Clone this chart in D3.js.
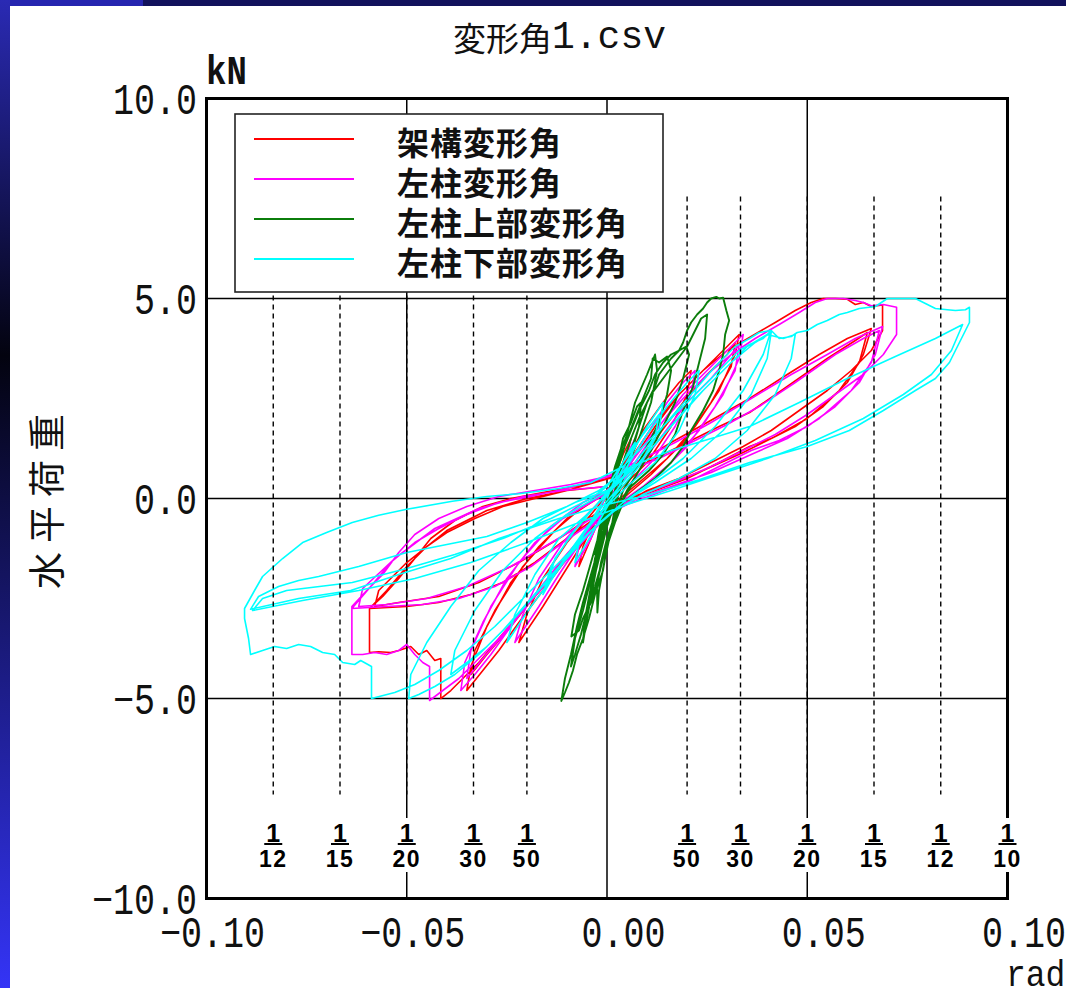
<!DOCTYPE html>
<html><head><meta charset="utf-8">
<script src="https://cdn.jsdelivr.net/npm/d3@7"></script>
<style>html,body{margin:0;padding:0;background:#fff;overflow:hidden}</style>
</head><body>
<svg id="chart" width="1066" height="988"></svg>
<script>
// ---------------- data ----------------
const chartTitle = "変形角1.csv";
const seriesNames = ["架構変形角","左柱変形角","左柱上部変形角","左柱下部変形角"];
const xTicks = [-0.1,-0.05,0,0.05,0.1];
const xTickLabels = ["−0.10","−0.05","0.00","0.05","0.10"];
const yTicks = [-10,-5,0,5,10];
const yTickLabels = ["−10.0","−5.0","0.0","5.0","10.0"];
const gridX = [-0.05,0,0.05];
const gridY = [-5,0,5];
const driftLeft = [12,15,20,30,50];      // −1/n
const driftRight = [50,30,20,15,12,10];  // +1/n

const frameDrift = [
[0,0],[0.002,0.6],[0.004,1.1],[0.006,1.5],[0.005,1.1],[0.002,0.4],[-0.001,-0.3],[-0.004,-1.0],[-0.007,-1.7],[-0.006,-1.2],[-0.003,-0.5],[0.000,0.1],
[0.004,0.8],[0.009,1.7],[0.014,2.4],[0.018,2.9],[0.021,3.2],[0.020,2.6],[0.016,1.8],[0.010,0.9],[0.004,0.3],[-0.001,-0.3],[-0.006,-1.1],[-0.011,-1.9],[-0.016,-2.7],[-0.020,-3.3],[-0.022,-3.6],[-0.020,-2.9],[-0.016,-2.0],[-0.010,-1.1],[-0.004,-0.4],[0.001,0.2],
[0.006,0.9],[0.012,1.8],[0.018,2.6],[0.024,3.2],[0.029,3.7],[0.033,4.1],[0.032,3.6],[0.028,2.7],[0.022,1.8],[0.015,1.0],[0.008,0.4],[0.002,-0.1],[-0.004,-0.7],[-0.010,-1.5],[-0.016,-2.3],[-0.022,-3.1],[-0.027,-3.8],[-0.031,-4.3],[-0.035,-4.8],[-0.034,-4.2],[-0.030,-3.2],[-0.024,-2.1],[-0.017,-1.2],[-0.010,-0.5],[-0.004,-0.1],[0.001,0.2],
[0.007,0.8],[0.013,1.6],[0.019,2.4],[0.025,3.1],[0.030,3.6],[0.032,3.9],[0.031,3.3],[0.026,2.4],[0.019,1.4],[0.011,0.6],[0.004,0.0],[-0.003,-0.6],[-0.010,-1.4],[-0.017,-2.3],[-0.024,-3.2],[-0.030,-3.9],[-0.034,-4.4],[-0.033,-3.8],[-0.028,-2.8],[-0.021,-1.7],[-0.013,-0.8],[-0.006,-0.2],[0.000,0.2],
[0.006,1.0],[0.012,1.9],[0.018,2.6],[0.024,3.2],[0.030,3.7],[0.036,4.05],[0.042,4.4],[0.047,4.7],[0.051,4.9],[0.054,5.0],[0.057,5.0],[0.060,4.98],[0.062,4.85],[0.064,4.9],[0.066,4.8],[0.0688,4.84],[0.0688,4.2],[0.066,3.7],[0.061,3.2],[0.055,2.7],[0.048,2.2],[0.041,1.7],[0.034,1.3],[0.026,0.9],[0.018,0.5],[0.010,0.2],[0.003,-0.2],[-0.003,-0.7],[-0.009,-1.4],[-0.015,-2.1],[-0.021,-2.8],[-0.027,-3.5],[-0.032,-4.1],[-0.036,-4.5],[-0.039,-4.8],[-0.0415,-5.0],[-0.0415,-4.0],[-0.043,-4.05],[-0.045,-3.8],[-0.047,-3.9],[-0.049,-3.7],[-0.052,-3.8],[-0.054,-3.85],[-0.057,-3.83],[-0.0593,-3.85],[-0.0593,-2.75],
[-0.056,-2.45],[-0.052,-2.0],[-0.048,-1.5],[-0.044,-1.0],[-0.038,-0.55],[-0.031,-0.2],[-0.024,0.0],[-0.016,0.15],[-0.008,0.3],[0.0,0.5],
[0.008,0.9],[0.016,1.4],[0.025,1.9],[0.0356,2.5],[0.045,3.1],[0.053,3.6],[0.060,4.0],[0.066,4.25],[0.064,3.6],[0.060,2.9],[0.054,2.3],[0.047,1.8],[0.041,1.5],[0.0356,1.3],[0.028,0.9],[0.020,0.5],[0.012,0.2],[0.004,-0.1],[-0.003,-0.5],[-0.010,-1.0],[-0.018,-1.6],[-0.026,-2.1],[-0.034,-2.4],[-0.042,-2.6],[-0.050,-2.7],[-0.0593,-2.75],
[-0.055,-2.3],[-0.050,-1.7],[-0.045,-1.2],[-0.040,-0.85],[-0.033,-0.5],[-0.026,-0.2],[-0.018,0.0],[-0.010,0.2],[-0.003,0.4],[0.004,0.6],
[0.012,1.0],[0.020,1.4],[0.028,1.8],[0.0356,2.15],[0.045,2.8],[0.055,3.5],[0.062,3.95],[0.065,4.15],[0.063,3.4],[0.058,2.7],[0.050,2.0],[0.042,1.55],[0.034,1.15],[0.024,0.7],[0.014,0.3],[0.005,0.0],[-0.003,-0.4],[-0.012,-1.0],[-0.022,-1.6],[-0.032,-2.1],[-0.042,-2.45],[-0.052,-2.6],[-0.058,-2.7],[-0.057,-2.3],[-0.050,-1.6],[-0.040,-0.8],[-0.030,-0.3],[-0.020,0.0],[-0.010,0.2],[0.0,0.3]
];

const leftColumn = [
[0,0],[0.002,0.5],[0.005,1.1],[0.007,1.5],[0.006,1.1],[0.003,0.4],[-0.001,-0.3],[-0.004,-1.0],[-0.008,-1.7],[-0.007,-1.2],[-0.003,-0.5],[0.0,0.1],
[0.005,0.8],[0.010,1.6],[0.015,2.4],[0.019,2.9],[0.022,3.2],[0.021,2.6],[0.017,1.8],[0.011,0.9],[0.005,0.3],[-0.001,-0.3],[-0.006,-1.0],[-0.012,-1.9],[-0.017,-2.7],[-0.021,-3.3],[-0.023,-3.6],[-0.021,-2.9],[-0.017,-2.0],[-0.011,-1.1],[-0.005,-0.4],[0.001,0.2],
[0.007,0.9],[0.013,1.8],[0.019,2.6],[0.025,3.2],[0.030,3.7],[0.034,4.1],[0.033,3.5],[0.029,2.6],[0.023,1.7],[0.016,0.9],[0.009,0.3],[0.002,-0.2],[-0.005,-0.8],[-0.011,-1.6],[-0.018,-2.4],[-0.024,-3.2],[-0.029,-3.9],[-0.033,-4.4],[-0.0365,-4.8],[-0.0355,-4.1],[-0.031,-3.1],[-0.025,-2.0],[-0.018,-1.1],[-0.011,-0.5],[-0.004,-0.1],[0.001,0.2],
[0.008,0.8],[0.014,1.6],[0.020,2.4],[0.026,3.0],[0.031,3.6],[0.033,3.85],[0.032,3.2],[0.027,2.3],[0.020,1.3],[0.012,0.5],[0.004,-0.1],[-0.004,-0.7],[-0.011,-1.5],[-0.018,-2.4],[-0.025,-3.3],[-0.031,-4.0],[-0.035,-4.5],[-0.034,-3.8],[-0.029,-2.7],[-0.022,-1.6],[-0.014,-0.7],[-0.006,-0.1],[0.0,0.2],
[0.006,0.9],[0.012,1.7],[0.019,2.5],[0.025,3.1],[0.031,3.6],[0.037,4.0],[0.043,4.35],[0.048,4.65],[0.052,4.9],[0.055,5.0],[0.059,5.0],[0.062,4.95],[0.064,4.9],[0.066,4.82],[0.069,4.85],[0.0723,4.78],[0.0723,4.1],[0.069,3.6],[0.064,3.1],[0.057,2.6],[0.050,2.1],[0.042,1.6],[0.034,1.2],[0.026,0.8],[0.018,0.45],[0.010,0.15],[0.003,-0.25],[-0.003,-0.75],[-0.009,-1.4],[-0.015,-2.1],[-0.021,-2.8],[-0.027,-3.5],[-0.033,-4.1],[-0.037,-4.5],[-0.041,-4.8],[-0.0443,-5.05],[-0.0443,-4.2],[-0.046,-4.1],[-0.048,-3.9],[-0.050,-3.65],[-0.052,-3.8],[-0.055,-3.9],[-0.058,-3.85],[-0.061,-3.9],[-0.0637,-3.9],[-0.0637,-2.7],
[-0.060,-2.3],[-0.056,-1.9],[-0.052,-1.35],[-0.048,-0.9],[-0.042,-0.5],[-0.035,-0.2],[-0.027,0.05],[-0.018,0.2],[-0.009,0.35],[0.0,0.55],
[0.008,0.95],[0.017,1.4],[0.026,1.9],[0.036,2.5],[0.046,3.1],[0.055,3.6],[0.062,4.0],[0.0688,4.3],[0.067,3.6],[0.063,2.9],[0.057,2.3],[0.050,1.8],[0.043,1.45],[0.036,1.2],[0.029,0.85],[0.021,0.45],[0.013,0.15],[0.005,-0.15],[-0.003,-0.55],[-0.011,-1.1],[-0.019,-1.7],[-0.028,-2.2],[-0.037,-2.5],[-0.046,-2.65],[-0.055,-2.7],[-0.0637,-2.75],
[-0.059,-2.2],[-0.054,-1.6],[-0.048,-1.1],[-0.042,-0.75],[-0.035,-0.4],[-0.027,-0.1],[-0.019,0.05],[-0.010,0.25],[-0.003,0.45],[0.004,0.65],
[0.013,1.0],[0.022,1.45],[0.030,1.85],[0.038,2.3],[0.047,2.9],[0.057,3.6],[0.064,4.0],[0.068,4.2],[0.066,3.4],[0.061,2.7],[0.053,2.0],[0.045,1.5],[0.036,1.1],[0.026,0.65],[0.016,0.3],[0.006,-0.05],[-0.003,-0.45],[-0.013,-1.05],[-0.024,-1.7],[-0.035,-2.2],[-0.045,-2.5],[-0.055,-2.65],[-0.062,-2.7],[-0.061,-2.25],[-0.053,-1.5],[-0.043,-0.75],[-0.032,-0.25],[-0.021,0.05],[-0.011,0.2],[0.0,0.3]
];

const leftColumnUpper = [
[0,0],[0.001,0.4],[0.002,0.8],[0.003,1.1],[0.004,1.4],[0.003,0.9],[0.0015,0.3],[0.0,-0.3],[-0.0015,-0.8],[-0.003,-1.4],[-0.002,-0.8],[-0.0005,-0.2],
[0.001,0.4],[0.003,1.0],[0.004,1.5],[0.006,1.9],[0.0075,2.3],[0.0085,2.4],[0.008,1.8],[0.006,1.1],[0.004,0.5],[0.002,-0.1],[0.0,-0.7],[-0.0015,-1.3],[-0.003,-1.9],[-0.004,-2.4],[-0.005,-2.9],[-0.004,-2.2],[-0.003,-1.5],[-0.001,-0.8],[0.0005,-0.1],
[0.002,0.5],[0.0035,1.0],[0.005,1.5],[0.007,2.0],[0.009,2.5],[0.011,3.0],[0.0114,3.5],[0.013,3.4],[0.015,3.55],[0.016,3.2],[0.015,2.6],[0.013,1.9],[0.010,1.3],[0.007,0.7],[0.004,0.2],[0.002,-0.4],[0.0,-1.0],[-0.0015,-1.6],[-0.0025,-2.2],[-0.0024,-2.85],[-0.002,-2.3],[-0.0005,-1.5],[0.001,-0.8],[0.002,-0.2],
[0.004,0.5],[0.006,1.2],[0.008,1.8],[0.010,2.4],[0.012,2.8],[0.013,3.1],[0.0145,3.3],[0.016,3.5],[0.018,3.7],[0.0198,3.8],[0.0205,3.6],[0.019,3.0],[0.017,2.4],[0.014,1.8],[0.011,1.2],[0.008,0.7],[0.005,0.2],[0.002,-0.4],[0.0,-1.1],[-0.002,-1.9],[-0.004,-2.6],[-0.006,-3.0],[-0.007,-3.3],[-0.0089,-3.45],[-0.008,-2.9],[-0.006,-2.3],[-0.004,-1.6],[-0.002,-0.9],[0.0,-0.2],
[0.002,0.5],[0.004,1.2],[0.006,1.7],[0.008,2.2],[0.0105,2.7],[0.012,3.1],[0.014,3.4],[0.016,3.6],[0.018,3.7],[0.019,3.9],[0.020,4.2],[0.021,4.4],[0.0225,4.6],[0.024,4.75],[0.025,4.9],[0.026,5.0],[0.0273,5.04],[0.028,5.0],[0.029,5.02],[0.0298,4.7],[0.0305,4.45],[0.0295,4.1],[0.029,3.6],[0.028,3.2],[0.0265,2.7],[0.024,2.2],[0.021,1.7],[0.019,1.3],[0.016,0.9],[0.012,0.5],[0.008,0.2],[0.004,-0.1],[0.002,-0.6],[0.0,-1.2],[-0.001,-1.8],[-0.003,-2.4],[-0.0045,-3.0],[-0.006,-3.5],[-0.0075,-3.9],[-0.0085,-4.3],[-0.0095,-4.6],[-0.0105,-4.85],[-0.0114,-5.06],[-0.0105,-4.5],[-0.009,-3.9],[-0.0075,-3.2],[-0.006,-2.6],[-0.004,-1.9],[-0.002,-1.2],[0.0,-0.5],[0.002,0.2],
[0.004,0.9],[0.006,1.5],[0.008,2.0],[0.011,2.6],[0.014,3.0],[0.017,3.4],[0.020,3.8],[0.022,4.2],[0.0235,4.5],[0.025,4.6],[0.0245,4.0],[0.023,3.4],[0.0215,2.8],[0.019,2.2],[0.017,1.6],[0.014,1.1],[0.0105,0.7],[0.006,0.3],[0.003,-0.2],[0.001,-0.8],[-0.001,-1.5],[-0.003,-2.2],[-0.005,-2.8],[-0.0065,-3.4],[-0.008,-3.9],[-0.009,-4.2],[-0.008,-3.5],[-0.006,-2.8],[-0.004,-2.0],[-0.002,-1.2],[0.0,-0.4],[0.001,0.0],
[0.002,0.8],[0.005,1.6],[0.007,2.4],[0.010,3.1],[0.012,3.6],[0.0125,3.2],[0.011,2.4],[0.008,1.5],[0.005,0.8],[0.002,0.1],[0.0,-0.6],[-0.002,-1.4],[-0.0035,-2.2],[-0.005,-3.0],[-0.006,-3.6],[-0.0055,-3.0],[-0.004,-2.2],[-0.002,-1.3],[0.0,-0.5],[0.001,0.0]
];

const leftColumnLower = [
[0,0],[0.002,0.5],[0.005,1.1],[0.007,1.4],[0.006,1.0],[0.003,0.3],[-0.001,-0.4],[-0.005,-1.1],[-0.008,-1.6],[-0.007,-1.1],[-0.003,-0.4],[0.0,0.1],
[0.005,0.8],[0.010,1.6],[0.015,2.3],[0.020,2.9],[0.023,3.2],[0.022,2.6],[0.018,1.7],[0.012,0.9],[0.005,0.3],[-0.001,-0.3],[-0.007,-1.0],[-0.013,-1.9],[-0.019,-2.7],[-0.023,-3.3],[-0.025,-3.6],[-0.023,-2.9],[-0.018,-1.9],[-0.012,-1.0],[-0.005,-0.4],[0.001,0.2],
[0.007,0.9],[0.014,1.8],[0.021,2.6],[0.027,3.3],[0.032,3.8],[0.0356,4.0],[0.038,4.15],[0.041,4.2],[0.039,3.6],[0.034,2.7],[0.027,1.8],[0.019,1.0],[0.011,0.4],[0.004,-0.1],[-0.003,-0.7],[-0.010,-1.5],[-0.017,-2.3],[-0.024,-3.1],[-0.030,-3.7],[-0.035,-4.1],[-0.039,-4.4],[-0.038,-3.8],[-0.033,-2.8],[-0.026,-1.8],[-0.018,-1.0],[-0.010,-0.4],[-0.003,0.0],[0.002,0.3],
[0.008,0.9],[0.015,1.7],[0.022,2.5],[0.029,3.2],[0.035,3.8],[0.040,4.1],[0.044,4.0],[0.047,4.1],[0.046,3.5],[0.042,2.6],[0.035,1.7],[0.027,1.0],[0.018,0.5],[0.009,0.1],[0.002,-0.3],[-0.005,-0.9],[-0.012,-1.7],[-0.019,-2.5],[-0.026,-3.3],[-0.032,-3.9],[-0.038,-4.4],[-0.043,-4.7],[-0.047,-4.9],[-0.0495,-5.0],[-0.049,-4.4],[-0.045,-3.6],[-0.039,-2.7],[-0.032,-1.8],[-0.024,-1.1],[-0.016,-0.5],[-0.008,-0.1],[0.0,0.2],
[0.008,0.9],[0.016,1.8],[0.024,2.7],[0.031,3.4],[0.037,3.9],[0.041,4.15],[0.040,3.5],[0.036,2.6],[0.029,1.7],[0.021,1.0],[0.012,0.4],[0.004,-0.1],[-0.004,-0.8],[-0.012,-1.6],[-0.020,-2.4],[-0.028,-3.2],[-0.035,-3.8],[-0.042,-4.3],[-0.048,-4.65],[-0.053,-4.85],[-0.0588,-5.0],[-0.0588,-4.2],[-0.0615,-4.05],[-0.063,-4.15],[-0.066,-4.1],[-0.068,-3.9],[-0.071,-3.85],[-0.074,-3.7],[-0.077,-3.65],[-0.080,-3.75],[-0.083,-3.7],[-0.086,-3.8],[-0.089,-3.9],[-0.0895,-3.5],[-0.0905,-3.0],[-0.0905,-2.75],
[-0.088,-2.3],[-0.086,-1.95],[-0.081,-1.5],[-0.076,-1.1],[-0.070,-0.85],[-0.0636,-0.6],[-0.057,-0.42],[-0.050,-0.27],[-0.0386,-0.07],[-0.030,0.05],[-0.022,0.12],[-0.012,0.25],[-0.004,0.4],
[0.004,0.8],[0.010,1.4],[0.016,2.0],[0.022,2.6],[0.028,3.2],[0.033,3.7],[0.0356,3.85],[0.039,4.0],[0.041,4.2],[0.043,4.0],[0.046,4.05],[0.0475,4.15],[0.050,4.2],[0.0525,4.35],[0.055,4.45],[0.058,4.6],[0.060,4.65],[0.063,4.75],[0.067,4.8],[0.070,5.0],[0.074,5.0],[0.077,5.0],[0.079,4.9],[0.082,4.75],[0.085,4.72],[0.087,4.7],[0.0895,4.72],[0.0905,4.78],[0.0905,4.4],
[0.088,3.9],[0.0855,3.4],[0.082,3.0],[0.077,2.7],[0.069,2.2],[0.0605,1.7],[0.050,1.3],[0.0356,0.9],[0.023,0.47],[0.0106,0.1],[0.0,-0.15],[-0.012,-0.5],[-0.027,-1.0],[-0.039,-1.5],[-0.052,-1.9],[-0.064,-2.3],[-0.077,-2.5],[-0.089,-2.77],
[-0.087,-2.45],[-0.082,-2.2],[-0.077,-2.05],[-0.072,-1.95],[-0.062,-1.7],[-0.050,-1.35],[-0.040,-1.15],[-0.030,-0.95],[-0.020,-0.6],[-0.010,-0.2],[-0.002,0.2],
[0.006,0.8],[0.016,1.2],[0.026,1.5],[0.0356,1.8],[0.048,2.4],[0.060,3.0],[0.072,3.55],[0.082,4.0],[0.0888,4.35],[0.086,3.7],[0.081,3.1],[0.074,2.6],[0.064,2.0],[0.052,1.45],[0.040,1.0],[0.028,0.6],[0.016,0.2],[0.005,-0.15],[-0.007,-0.6],[-0.020,-1.1],[-0.034,-1.6],[-0.048,-2.0],[-0.062,-2.3],[-0.076,-2.55],[-0.0885,-2.8],
[-0.086,-2.5],[-0.080,-2.3],[-0.0636,-2.1],[-0.050,-1.75],[-0.038,-1.4],[-0.026,-1.0],[-0.014,-0.5],[-0.004,0.0],[0.0,0.3],
[0.004,0.9],[0.009,1.6],[0.013,2.1],[0.012,1.5],[0.008,0.8],[0.003,0.2],[-0.003,-0.5],[-0.008,-1.2],[-0.013,-1.9],[-0.015,-2.2],[-0.013,-1.5],[-0.008,-0.8],[-0.003,-0.2],[0.002,0.4],[0.006,1.1],[0.010,1.8],[0.014,2.4],[0.013,1.7],[0.009,1.0],[0.004,0.4],[-0.002,-0.3],[-0.007,-1.0],[-0.012,-1.7],[-0.016,-2.4],[-0.014,-1.7],[-0.009,-0.9],[-0.004,-0.3],[0.0,0.1]
];

const seriesData = [frameDrift, leftColumn, leftColumnUpper, leftColumnLower];
const seriesColors = ["#ff0000","#ff00ff","#0b7d0b","#00ffff"];

// ---------------- drawing ----------------
const W = 1066, H = 988;
const svg = d3.select("#chart");
const x = d3.scaleLinear().domain([-0.1, 0.1]).range([206.5, 1007.5]);
const y = d3.scaleLinear().domain([-10, 10]).range([898.5, 98.5]);
const MONO = "'Liberation Mono','DejaVu Sans Mono',monospace";
const CJK = "'Noto Sans CJK JP','Noto Sans CJK SC',sans-serif";

// slide border
const defs = svg.append("defs");
const lg = defs.append("linearGradient").attr("id","leftGrad").attr("x1",0).attr("y1",0).attr("x2",0).attr("y2",1);
lg.append("stop").attr("offset","0%").attr("stop-color","#2a2ab4");
lg.append("stop").attr("offset","36%").attr("stop-color","#03030f");
lg.append("stop").attr("offset","100%").attr("stop-color","#3434f6");
svg.append("rect").attr("x",0).attr("y",0).attr("width",W).attr("height",6).attr("fill","#11115c");
svg.append("rect").attr("x",0).attr("y",0).attr("width",143).attr("height",6).attr("fill","#2626b0");
svg.append("rect").attr("x",0).attr("y",0).attr("width",10).attr("height",H).attr("fill","url(#leftGrad)");

// solid grid
const grid = svg.append("g").attr("stroke","#000").attr("stroke-width",1.5);
grid.selectAll(".gx").data(gridX).join("line")
  .attr("x1", d => x(d)).attr("x2", d => x(d)).attr("y1", y(10)).attr("y2", y(-10));
grid.selectAll(".gy").data(gridY).join("line")
  .attr("y1", d => y(d)).attr("y2", d => y(d)).attr("x1", x(-0.1)).attr("x2", x(0.1));

// data
const line = d3.line().x(d => x(d[0])).y(d => y(d[1]));
const dataG = svg.append("g");
seriesData.forEach((s, i) => {
  dataG.append("path").attr("d", line(s)).attr("fill","none")
    .attr("stroke", seriesColors[i]).attr("stroke-width", i === 2 ? 1.9 : 1.6)
    .attr("stroke-linejoin","round");
});

// drift dashed lines
const driftPos = driftLeft.map(n => -1/n).concat(driftRight.map(n => 1/n));
svg.append("g").selectAll("line").data(driftPos).join("line")
  .attr("x1", d => x(d)).attr("x2", d => x(d))
  .attr("y1", y(7.55)).attr("y2", y(-7.4))
  .attr("stroke","#000").attr("stroke-width",1.4).attr("stroke-dasharray","5,4");

// frame
svg.append("rect").attr("x", x(-0.1)).attr("y", y(10))
  .attr("width", x(0.1) - x(-0.1)).attr("height", y(-10) - y(10))
  .attr("fill","none").attr("stroke","#000").attr("stroke-width",3);

// drift fraction labels
const drifts = driftLeft.map(n => ({n, v: -1/n})).concat(driftRight.map(n => ({n, v: 1/n})));
const fl = svg.append("g").selectAll("g").data(drifts).join("g")
  .attr("transform", d => `translate(${x(d.v)},0)`);
fl.append("rect").attr("x",-16).attr("y",818).attr("width",32).attr("height",54).attr("fill","#fff");
fl.append("text").attr("x",0).attr("y",842).attr("text-anchor","middle")
  .attr("font-family","'Liberation Sans',Arial,sans-serif").attr("font-weight","bold").attr("font-size",25)
  .text("1");
fl.append("line").attr("x1",-9).attr("x2",9).attr("y1",844).attr("y2",844).attr("stroke","#000").attr("stroke-width",2);
fl.append("text").attr("x",0).attr("y",867).attr("text-anchor","middle")
  .attr("font-family","'Liberation Sans',Arial,sans-serif").attr("font-weight","bold").attr("font-size",23)
  .attr("letter-spacing",1.5)
  .text(d => d.n);

// legend
const leg = svg.append("g");
leg.append("rect").attr("x",235).attr("y",114).attr("width",428).attr("height",178)
  .attr("fill","#fff").attr("stroke","#222").attr("stroke-width",1.6);
seriesNames.forEach((name, i) => {
  const cy = 139 + i * 40;
  leg.append("line").attr("x1",254).attr("x2",354).attr("y1",cy).attr("y2",cy)
    .attr("stroke", seriesColors[i]).attr("stroke-width",2);
  leg.append("text").attr("x",397).attr("y",cy + 2).attr("dominant-baseline","central")
    .attr("font-family",CJK).attr("font-weight","bold").attr("font-size",32).attr("letter-spacing",1).attr("fill","#111")
    .text(name);
});

// axes
const xAxis = d3.axisBottom(x).tickValues(xTicks).tickSize(0).tickFormat((d,i) => xTickLabels[i]);
const gx = svg.append("g").attr("transform",`translate(0,${y(-10)})`).call(xAxis);
gx.select(".domain").remove();
gx.selectAll("text").attr("x",null).attr("y",null).attr("dy",null)
  .attr("text-anchor","end").attr("transform","translate(58,48.5) scale(1,1.25)")
  .attr("font-family",MONO).attr("font-size",35).attr("fill","#111");

const yAxis = d3.axisLeft(y).tickValues(yTicks).tickSize(0).tickFormat((d,i) => yTickLabels[i]);
const gy = svg.append("g").attr("transform",`translate(${x(-0.1)},0)`).call(yAxis);
gy.select(".domain").remove();
gy.selectAll("text").attr("x",null).attr("y",null).attr("dy",null)
  .attr("text-anchor","end").attr("transform","translate(-9.5,14.5) scale(1,1.25)")
  .attr("font-family",MONO).attr("font-size",35).attr("fill","#111");

// units
svg.append("text").attr("transform","translate(206,84) scale(1,1.2)")
  .attr("font-family",MONO).attr("font-weight","bold").attr("font-size",34).attr("fill","#111").text("kN");
svg.append("text").attr("transform","translate(1006,986) scale(1,1.1)")
  .attr("font-family",MONO).attr("font-size",33).attr("fill","#111").text("rad");

// title
const t = svg.append("text").attr("x",453).attr("y",37).attr("dominant-baseline","central").attr("fill","#111");
t.append("tspan").attr("font-family",CJK).attr("font-size",33).text(chartTitle.slice(0,3));
t.append("tspan").attr("font-family",MONO).attr("font-size",38).text(chartTitle.slice(3));

// y label
svg.append("text").attr("transform","translate(45,497) rotate(-90)")
  .attr("text-anchor","middle").attr("dominant-baseline","central")
  .attr("font-family",CJK).attr("font-size",37).attr("letter-spacing",9).attr("fill","#111")
  .text("水平荷重");
</script>
</body></html>
